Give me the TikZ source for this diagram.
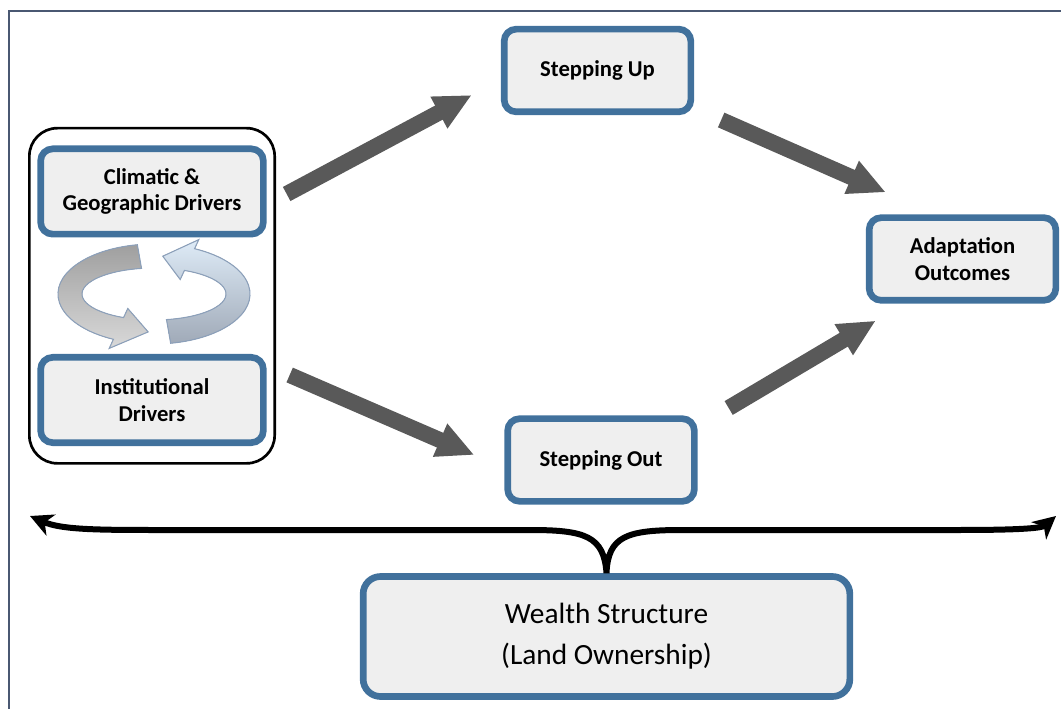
\documentclass[tikz,border=0pt]{standalone}
\usepackage{fontspec}
\setmainfont{Carlito}
\usetikzlibrary{arrows.meta,calc,fit}
\definecolor{boxblue}{RGB}{65,113,156}
\definecolor{boxfill}{RGB}{239,239,239}
\definecolor{arrowgray}{RGB}{89,89,89}
\definecolor{framecol}{RGB}{74,88,114}
\definecolor{cycedge}{RGB}{140,160,186}
\definecolor{cycblue}{RGB}{222,235,247}
\definecolor{cycslate}{RGB}{160,170,184}

\begin{document}
\begin{tikzpicture}[x=0.75pt, y=-0.75pt,
    stepbox/.style={draw=boxblue, line width=5pt, fill=boxfill, rounded corners=9pt, align=center,
      inner sep=0pt, minimum width=140pt, minimum height=62pt, font=\fontsize{17}{20}\selectfont\bfseries},
    driver/.style={stepbox, minimum width=167pt, minimum height=64pt},
    wealthbox/.style={stepbox, rounded corners=13pt, minimum width=365pt, minimum height=90pt,
      font=\fontsize{22}{31}\selectfont},
    bigarrow/.style={draw=arrowgray, line width=12pt, -{Triangle[length=28pt,width=25pt]}},
    brace/.style={draw=black, line width=4.5pt, {Stealth[length=17pt,width=17pt,inset=5pt]}-{Stealth[length=17pt,width=17pt,inset=5pt]}},
    cycarrow/.style={draw=cycedge, line width=0.8pt}
  ]
  \useasboundingbox (0,0) rectangle (1061,709);
  \draw[framecol, line width=2pt] (9,709) -- (9,11) -- (1061,11);

  \node[driver] (climate) at (152,191.5) {Climatic \&\\Geographic Drivers};
  \node[driver] (inst) at (152,400) {Institutional\\Drivers};
  \node[draw, line width=2pt, rounded corners=21pt, inner xsep=6pt, inner ysep=13pt, fit=(climate)(inst)] (drivers) {};

  \node[stepbox] (stepup) at (597.5,70.5) {Stepping Up};
  \node[stepbox] (stepout) at (601,460) {Stepping Out};
  \node[stepbox] (adapt) at (962.5,259) {Adaptation\\Outcomes};
  \node[wealthbox] (wealth) at (606.5,636.5) {Wealth Structure\\(Land Ownership)};

  % the two drivers feed each other
  \coordinate (cyc) at (154,294);
  \filldraw[cycarrow, top color=gray!75, bottom color=gray!30]
    ($(cyc)+(-100:96 and 50)$) arc[start angle=-100, end angle=-245, x radius=96, y radius=50]
    -- ($(cyc)+(-245:106 and 60)$) -- ($(cyc)+(-266:84 and 38)$) -- ($(cyc)+(-245:62 and 16)$)
    -- ($(cyc)+(-245:72 and 26)$) arc[start angle=-245, end angle=-100, x radius=72, y radius=26] -- cycle;
  \filldraw[cycarrow, top color=cycblue, bottom color=cycslate]
    ($(cyc)+(80:96 and 50)$) arc[start angle=80, end angle=-65, x radius=96, y radius=50]
    -- ($(cyc)+(-65:106 and 60)$) -- ($(cyc)+(-84:84 and 38)$) -- ($(cyc)+(-65:62 and 16)$)
    -- ($(cyc)+(-65:72 and 26)$) arc[start angle=-65, end angle=80, x radius=72, y radius=26] -- cycle;

  \draw[bigarrow] ($(climate.east)+(20,2.5)$) -- ($(stepup.west)+(-29,24.5)$);
  \draw[bigarrow] ($(stepup.east)+(27,49.5)$) -- ($(adapt.north west)+(20,-22)$);
  \draw[bigarrow] ($(inst.east)+(23,-25)$) -- ($(stepout.west)+(-30,-5)$);
  \draw[bigarrow] ($(stepout.east)+(31,-52)$) -- ($(adapt.south west)+(10,17)$);

  \coordinate (bl) at (30,516);
  \coordinate (br) at (1056,516);
  \draw[brace] (bl) .. controls (60,529) and (90,530) .. (150,530) -- (530,530)
    .. controls (585,530) and (604,536) .. (wealth.north)
    .. controls (608,536) and (627,530) .. (682,530) -- (960,530)
    .. controls (1022,530) and (1042,528) .. (br);
\end{tikzpicture}
\end{document}
